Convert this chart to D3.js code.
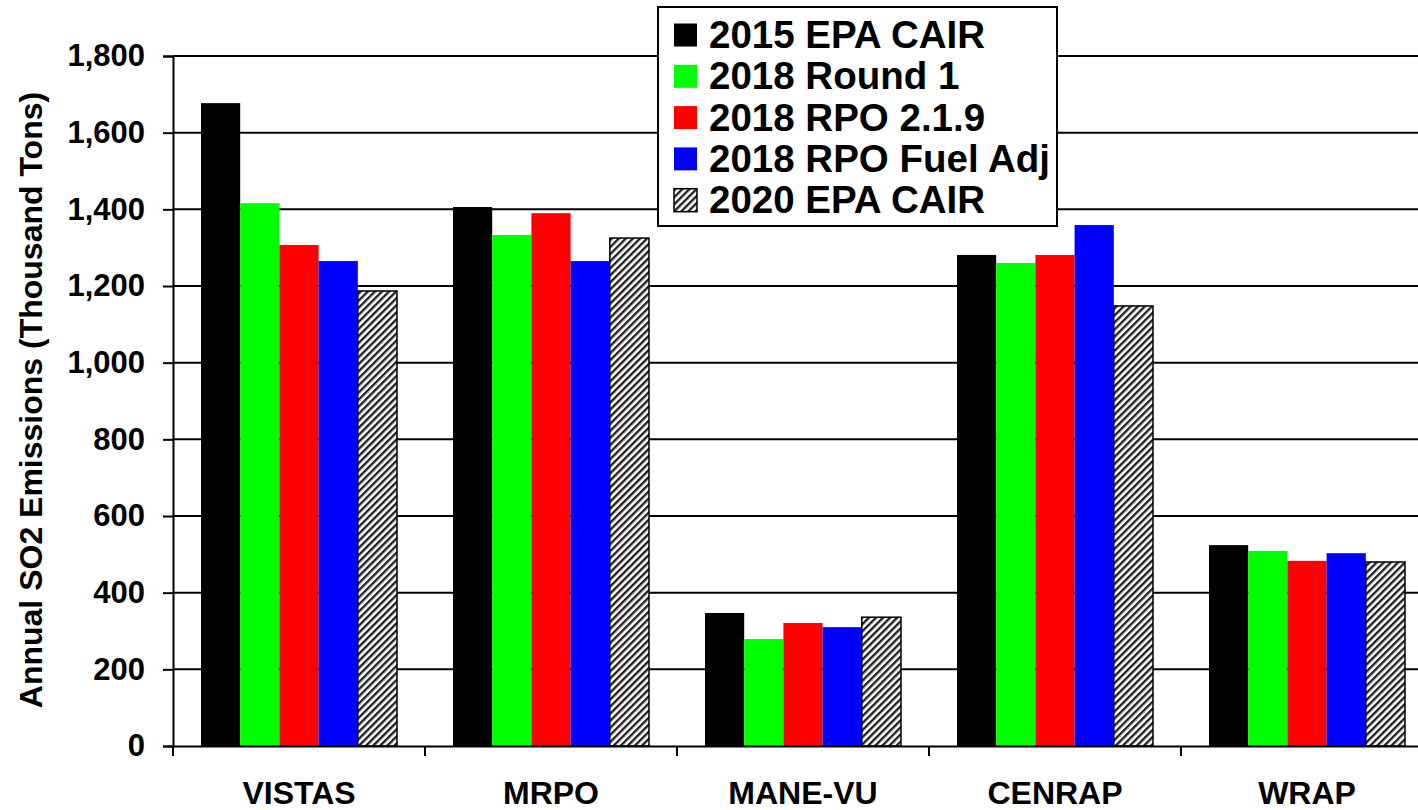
<!DOCTYPE html>
<html><head><meta charset="utf-8">
<script src="https://cdn.jsdelivr.net/npm/d3@7"></script>
<style>body{margin:0;background:#fff}svg{display:block}</style>
</head><body>
<script>
const categories = ["VISTAS","MRPO","MANE-VU","CENRAP","WRAP"];
const seriesNames = ["2015 EPA CAIR","2018 Round 1","2018 RPO 2.1.9","2018 RPO Fuel Adj","2020 EPA CAIR"];
const s2015 = [1677, 1406, 347, 1281, 524];
const sRound1 = [1416, 1333, 279, 1260, 509];
const sRPO219 = [1307, 1390, 321, 1281, 483];
const sFuelAdj = [1265, 1265, 310, 1359, 503];
const s2020 = [1187, 1325, 336, 1148, 480];
const yTicks = [0,200,400,600,800,1000,1200,1400,1600,1800];
const colors = ["#000000","#00ff00","#ff0000","#0000ff","url(#hatch)"];
const series = [s2015, sRound1, sRPO219, sFuelAdj, s2020];

(function(){
const W = 1418, H = 810;
const svg = d3.select("body").append("svg").attr("width", W).attr("height", H);
const defs = svg.append("defs");
const pat = defs.append("pattern").attr("id","hatch").attr("patternUnits","userSpaceOnUse")
  .attr("width",5).attr("height",5).attr("patternTransform","rotate(45)");
pat.append("rect").attr("width",5).attr("height",5).attr("fill","#fff");
pat.append("rect").attr("x",0).attr("width",2.4).attr("height",5).attr("fill","#222");

const mLeft = 173, mBottom = 746, mTop = 56;
const x = d3.scaleBand().domain(categories).range([mLeft, mLeft + 5*252]);
const xi = d3.scaleBand().domain(d3.range(5)).range([28, 224]);
const y = d3.scaleLinear().domain([0,1800]).range([mBottom, mTop]);

const font = "'Liberation Sans', Arial, sans-serif";

svg.append("g").selectAll("line").data(yTicks.filter(d=>d>0)).join("line")
  .attr("x1", mLeft).attr("x2", W).attr("y1", d=>y(d)).attr("y2", d=>y(d))
  .attr("stroke","#000").attr("stroke-width",2);

const g = svg.append("g");
categories.forEach((c, ci) => {
  series.forEach((s, si) => {
    const v = s[ci];
    g.append("rect")
      .attr("x", x(c) + xi(si))
      .attr("y", y(v))
      .attr("width", xi.bandwidth())
      .attr("height", y(0) - y(v))
      .attr("fill", colors[si])
      .attr("stroke", si === 4 ? "#000" : "none")
      .attr("stroke-width", si === 4 ? 1.5 : 0);
  });
});

const yAxis = d3.axisLeft(y).tickValues(yTicks).tickSize(10).tickPadding(18)
  .tickFormat(d3.format(","));
const ya = svg.append("g").attr("transform", `translate(${mLeft},0)`).call(yAxis);
ya.select(".domain").attr("stroke","#000").attr("stroke-width",2);
ya.selectAll(".tick line").attr("stroke","#000").attr("stroke-width",2);
ya.selectAll(".tick text").attr("font-family", font).attr("font-weight","bold")
  .attr("font-size", 31).attr("fill","#000");

const xAxis = d3.axisBottom(x).tickSize(0).tickPadding(35);
const xa = svg.append("g").attr("transform", `translate(0,${mBottom})`).call(xAxis);
xa.select(".domain").attr("stroke","#000").attr("stroke-width",2);
xa.selectAll(".tick text").attr("font-family", font).attr("font-weight","bold")
  .attr("font-size", 32).attr("fill","#000");
svg.append("g").selectAll("line").data(categories).join("line")
  .attr("x1", d=>x(d)).attr("x2", d=>x(d)).attr("y1", mBottom).attr("y2", mBottom+10)
  .attr("stroke","#000").attr("stroke-width",2);

svg.append("text").attr("transform", `translate(42,400) rotate(-90)`)
  .attr("text-anchor","middle").attr("font-family", font).attr("font-weight","bold")
  .attr("font-size", 32).text("Annual SO2 Emissions (Thousand Tons)");

const lg = svg.append("g");
lg.append("rect").attr("x",658).attr("y",7).attr("width",399).attr("height",219)
  .attr("fill","#fff").attr("stroke","#000").attr("stroke-width",2);
seriesNames.forEach((n, i) => {
  const cy = 35 + i*41.3;
  lg.append("rect").attr("x",674).attr("y",cy-11.5).attr("width",23).attr("height",23)
    .attr("fill", colors[i]).attr("stroke", i===4 ? "#000" : "none").attr("stroke-width",1.5);
  lg.append("text").attr("x",709).attr("y",cy+13).attr("font-family", font)
    .attr("font-weight","bold").attr("font-size",38.5).text(n);
});
})();
</script>
</body></html>
